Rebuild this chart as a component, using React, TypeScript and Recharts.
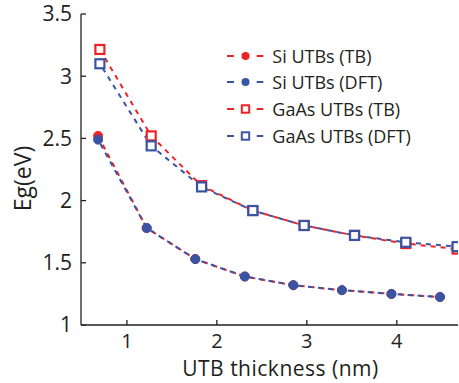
import React from 'react';
import { LineChart, Line, XAxis, YAxis, Label } from 'recharts';

const RED = '#ED2227';
const BLUE = '#3A54A4';
const INK = '#231f20';
const FONT = '"Open Sans", sans-serif';

// thickness (nm)
const siThickness = [0.68, 1.22, 1.76, 2.31, 2.85, 3.39, 3.94, 4.48];
const gaasThickness = [0.7, 1.27, 1.83, 2.4, 2.97, 3.53, 4.1, 4.67];

// band gap (eV)
const siTB = [2.52, 1.78, 1.53, 1.39, 1.32, 1.28, 1.25, 1.225];
const siDFT = [2.49, 1.78, 1.53, 1.39, 1.32, 1.28, 1.25, 1.225];
const gaasTB = [3.215, 2.52, 2.12, 1.92, 1.8, 1.72, 1.655, 1.61];
const gaasDFT = [3.1, 2.44, 2.11, 1.92, 1.8, 1.72, 1.665, 1.63];

const xTicks = [1, 2, 3, 4];
const yTicks = [1, 1.5, 2, 2.5, 3, 3.5];

const toPoints = (xs: number[], ys: number[]) => xs.map((x, i) => ({ x, y: ys[i] }));

const series = [
  { name: 'Si UTBs (TB)', color: RED, marker: 'circle', data: toPoints(siThickness, siTB), offset: 0 },
  { name: 'Si UTBs (DFT)', color: BLUE, marker: 'circle', data: toPoints(siThickness, siDFT), offset: 5 },
  { name: 'GaAs UTBs (TB)', color: RED, marker: 'square', data: toPoints(gaasThickness, gaasTB), offset: 0 },
  { name: 'GaAs UTBs (DFT)', color: BLUE, marker: 'square', data: toPoints(gaasThickness, gaasDFT), offset: 5 },
];

const makeDot = (color: string, marker: string) => (props: any) => {
  const { cx, cy, index } = props;
  if (cx == null || cy == null) return <g key={index} />;
  if (marker === 'circle') {
    return <circle key={index} cx={cx} cy={cy} r={4.5} fill={color} stroke={color} strokeWidth={1} />;
  }
  return (
    <rect key={index} x={cx - 4.5} y={cy - 4.5} width={9} height={9} fill="#fff" stroke={color} strokeWidth={2.2} />
  );
};

const LegendBox = () => (
  <div
    style={{
      position: 'absolute',
      left: 224,
      top: 42.4,
      fontFamily: FONT,
      fontSize: 18,
      color: INK,
      whiteSpace: 'nowrap',
    }}
  >
    {series.map((s) => (
      <div key={s.name} style={{ display: 'flex', alignItems: 'center', height: 26.7 }}>
        <svg width={44} height={14} style={{ marginRight: 4.3, flexShrink: 0 }}>
          <line x1={3} y1={7} x2={10} y2={7} stroke={s.color} strokeWidth={2} />
          <line x1={32.7} y1={7} x2={39.3} y2={7} stroke={s.color} strokeWidth={2} />
          {s.marker === 'circle' ? (
            <circle cx={21.5} cy={7} r={4} fill={s.color} />
          ) : (
            <rect x={17.8} y={3.3} width={7.4} height={7.4} fill="#fff" stroke={s.color} strokeWidth={2} />
          )}
        </svg>
        <span>{s.name}</span>
      </div>
    ))}
  </div>
);

export default function App() {
  return (
    <div style={{ position: 'absolute', left: 0, top: 0, width: 459, height: 383, background: '#fff' }}>
      <LineChart width={459} height={383} margin={{ top: 14, right: 1, bottom: 0, left: 0 }}>
        <XAxis
          dataKey="x"
          type="number"
          domain={[0.49, 4.68]}
          ticks={xTicks}
          allowDataOverflow
          height={58}
          stroke={INK}
          strokeWidth={1.3}
          tickSize={-5}
          tickMargin={14}
          tick={{ fill: INK, fontSize: 20, fontFamily: FONT }}
        >
          <Label
            value="UTB thickness (nm)"
            position="insideBottom"
            dx={11}
            offset={7}
            style={{ fill: INK, fontSize: 21, fontFamily: FONT, letterSpacing: 0.5 }}
          />
        </XAxis>
        <XAxis
          xAxisId="top"
          orientation="top"
          dataKey="x"
          type="number"
          domain={[0.49, 4.68]}
          ticks={xTicks}
          allowDataOverflow
          height={0}
          mirror
          stroke={INK}
          strokeWidth={1.3}
          tickSize={5}
          tickFormatter={() => ''}
        />
        <YAxis
          type="number"
          domain={[1, 3.5]}
          ticks={yTicks}
          width={81}
          stroke={INK}
          strokeWidth={1.3}
          tickSize={-5}
          tickMargin={14}
          tick={{ fill: INK, fontSize: 21, fontFamily: FONT }}
        >
          <Label
            value="Eg(eV)"
            angle={-90}
            position="insideLeft"
            dx={18}
            dy={9}
            style={{ fill: INK, fontSize: 23, fontFamily: FONT, textAnchor: 'middle' }}
          />
        </YAxis>
        <YAxis
          yAxisId="right"
          orientation="right"
          type="number"
          domain={[1, 3.5]}
          ticks={yTicks}
          width={0}
          mirror
          stroke={INK}
          strokeWidth={1.3}
          tickSize={5}
          tickFormatter={() => ''}
        />
        {series.map((s) => (
          <Line
            key={s.name}
            data={s.data}
            dataKey="y"
            name={s.name}
            stroke={s.color}
            strokeWidth={2}
            strokeDasharray="5 5"
            strokeDashoffset={s.offset}
            dot={makeDot(s.color, s.marker)}
            activeDot={false}
            isAnimationActive={false}
          />
        ))}
      </LineChart>
      <LegendBox />
    </div>
  );
}
